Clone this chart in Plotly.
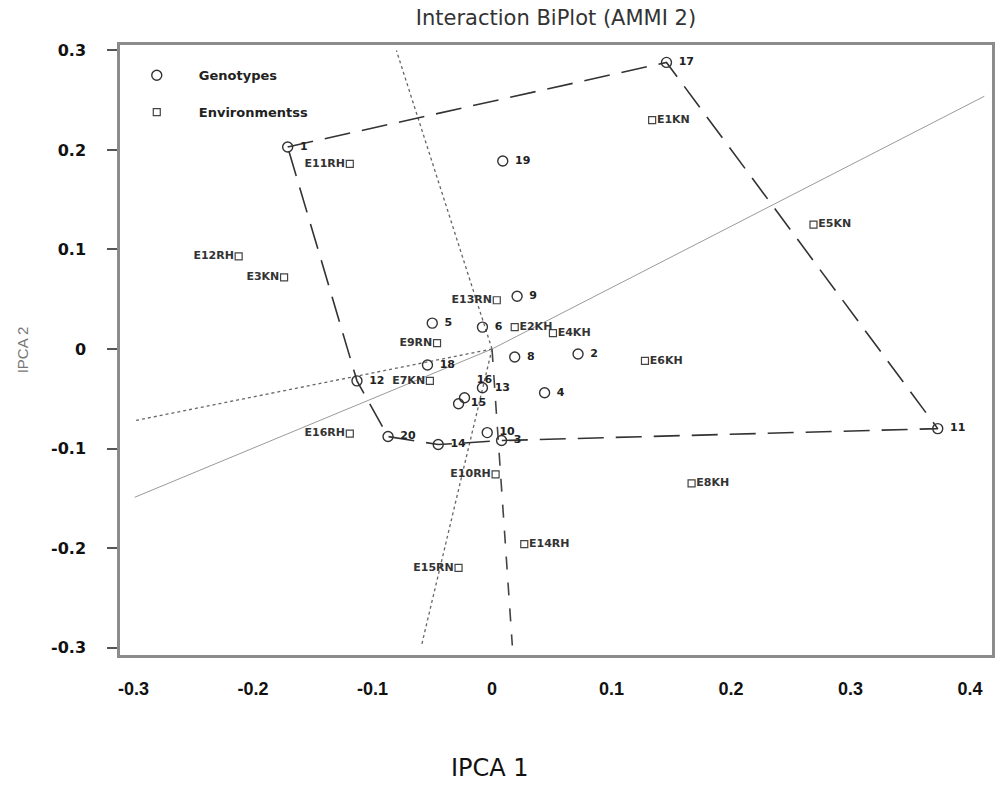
import plotly.graph_objects as go

# ---------------- data ----------------
geno_labels = ["1", "2", "3", "4", "5", "6", "8", "9", "10", "11",
               "12", "13", "14", "15", "16", "17", "18", "19", "20"]
geno_ipca1 = [-0.171, 0.072, 0.008, 0.044, -0.050, -0.008, 0.019, 0.021, -0.004, 0.373,
              -0.113, -0.008, -0.045, -0.028, -0.023, 0.146, -0.054, 0.009, -0.087]
geno_ipca2 = [0.203, -0.005, -0.092, -0.044, 0.026, 0.022, -0.008, 0.053, -0.084, -0.080,
              -0.032, -0.039, -0.096, -0.055, -0.049, 0.288, -0.016, 0.189, -0.088]

env_labels = ["E1KN", "E2KH", "E3KN", "E4KH", "E5KN", "E6KH", "E7KN", "E8KH",
              "E9RN", "E10RH", "E11RH", "E12RH", "E13RN", "E14RH", "E15RN", "E16RH"]
env_ipca1 = [0.134, 0.019, -0.174, 0.051, 0.269, 0.128, -0.052, 0.167,
             -0.046, 0.003, -0.119, -0.212, 0.004, 0.027, -0.028, -0.119]
env_ipca2 = [0.230, 0.022, 0.072, 0.016, 0.125, -0.012, -0.032, -0.135,
             0.006, -0.126, 0.186, 0.093, 0.049, -0.196, -0.220, -0.085]

# convex hull of genotypes (vertex labels, in order)
hull_order = ["1", "17", "11", "3", "14", "20", "12", "1"]

# rays from the origin, perpendicular to hull edges (end points)
ray_x = [-0.080, 0.412, 0.017, -0.059, -0.299, -0.299]
ray_y = [0.300, 0.254, -0.298, -0.298, -0.149, -0.072]
ray_style = ["dot", "solid", "dash", "dot", "solid", "dot"]

x_ticks = [-0.3, -0.2, -0.1, 0, 0.1, 0.2, 0.3, 0.4]
x_ticktext = ["-0.3", "-0.2", "-0.1", "0", "0.1", "0.2", "0.3", "0.4"]
y_ticks = [0.3, 0.2, 0.1, 0, -0.1, -0.2, -0.3]
y_ticktext = ["0.3", "0.2", "0.1", "0", "-0.1", "-0.2", "-0.3"]

# ---------------- figure ----------------
fig = go.Figure()

ray_fmt = {
    "dot": dict(color="#666666", width=1.3, dash="dot"),
    "solid": dict(color="#9a9a9a", width=1.0, dash="solid"),
    "dash": dict(color="#444444", width=1.6, dash="13px,13px"),
}
for xe, ye, st in zip(ray_x, ray_y, ray_style):
    fig.add_trace(go.Scatter(x=[0, xe], y=[0, ye], mode="lines",
                             line=ray_fmt[st], showlegend=False, hoverinfo="skip"))

idx = {lab: i for i, lab in enumerate(geno_labels)}
hx = [geno_ipca1[idx[l]] for l in hull_order]
hy = [geno_ipca2[idx[l]] for l in hull_order]
fig.add_trace(go.Scatter(x=hx, y=hy, mode="lines",
                         line=dict(color="#333333", width=1.6, dash="26px,12px"),
                         showlegend=False, hoverinfo="skip"))

# genotypes
fig.add_trace(go.Scatter(x=geno_ipca1, y=geno_ipca2, mode="markers", name="Genotypes",
                         legendgroup="g",
                         marker=dict(symbol="circle-open", size=10, color="#333333",
                                     line=dict(width=1.4))))
geno_pos = ["top right" if l == "16" else "middle right" for l in geno_labels]
fig.add_trace(go.Scatter(x=geno_ipca1, y=geno_ipca2, mode="markers+text", text=geno_labels,
                         textposition=geno_pos, showlegend=False, hoverinfo="skip",
                         marker=dict(size=18, color="rgba(0,0,0,0)"),
                         textfont=dict(family="DejaVu Sans", size=11, color="#222222",
                                       weight="bold")))

# environments
fig.add_trace(go.Scatter(x=env_ipca1, y=env_ipca2, mode="markers", name="Environmentss",
                         legendgroup="e",
                         marker=dict(symbol="square-open", size=7, color="#444444",
                                     line=dict(width=1.2))))
env_pos = ["middle left" if x < 0.01 else "middle right" for x in env_ipca1]
fig.add_trace(go.Scatter(x=env_ipca1, y=env_ipca2, mode="markers+text", text=env_labels,
                         textposition=env_pos, showlegend=False, hoverinfo="skip",
                         marker=dict(size=6, color="rgba(0,0,0,0)"),
                         textfont=dict(family="DejaVu Sans", size=11, color="#333333",
                                       weight="bold")))

axis_common = dict(showgrid=False, zeroline=False, showline=True, mirror=True,
                   linecolor="#8c8c8c", linewidth=2.5)

fig.update_xaxes(range=[-0.3113, 0.4184], tickvals=x_ticks, ticktext=x_ticktext,
                 ticks="", ticklabelstandoff=16,
                 tickfont=dict(family="Liberation Sans", size=18, color="#111111",
                               weight="bold"),
                 **axis_common)
fig.update_yaxes(range=[-0.3075, 0.3055], tickvals=y_ticks, ticktext=y_ticktext,
                 ticks="outside", ticklen=10, tickwidth=1.5, tickcolor="#555555",
                 ticklabelstandoff=18,
                 tickfont=dict(family="DejaVu Sans", size=16, color="#111111",
                               weight="bold"),
                 **axis_common)

fig.update_layout(
    width=1006, height=808,
    margin=dict(l=120, r=14, t=45, b=153),
    paper_bgcolor="white", plot_bgcolor="white",
    title=dict(text="Interaction BiPlot (AMMI 2)", x=0.5, xref="paper",
               y=1 - 18 / 808, yanchor="middle",
               font=dict(family="DejaVu Sans", size=21, color="#333333")),
    legend=dict(x=-0.006, y=0.975, xanchor="left", yanchor="top",
                bgcolor="rgba(0,0,0,0)", tracegroupgap=17, itemwidth=74,
                font=dict(family="DejaVu Sans", size=13, color="#222222", weight="bold")),
    annotations=[
        dict(text="IPCA 2", xref="paper", yref="paper", x=-0.112, y=0.5,
             textangle=-90, showarrow=False, xanchor="center", yanchor="middle",
             font=dict(family="Liberation Sans", size=15, color="#777777")),
        dict(text="IPCA 1", xref="paper", yref="paper", x=0.424, y=-0.185,
             showarrow=False, xanchor="center", yanchor="middle",
             font=dict(family="DejaVu Sans", size=24, color="#111111")),
    ],
)

fig.write_html("out.html")
